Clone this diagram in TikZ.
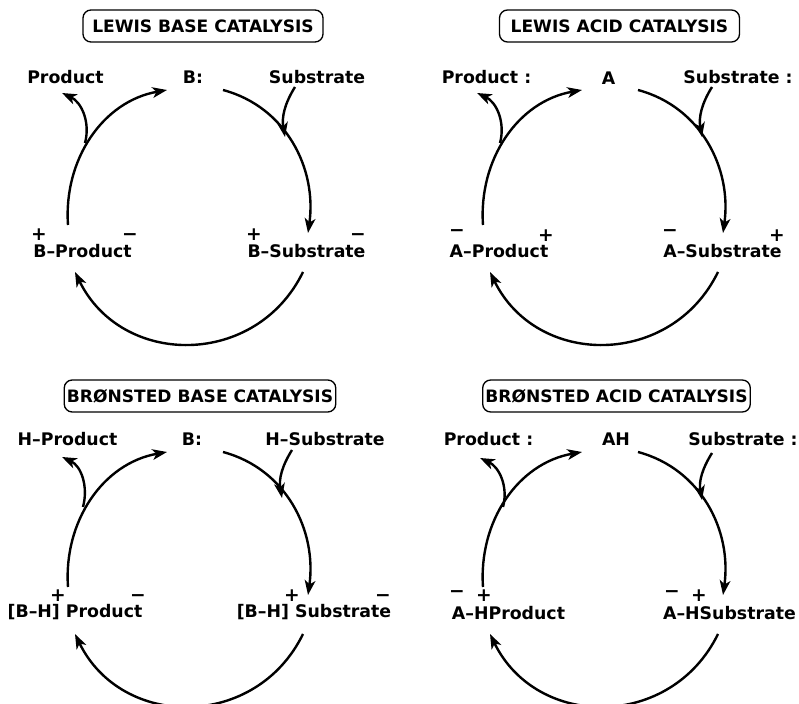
\documentclass[tikz,border=0pt]{standalone}
\usepackage{fontspec}
\setmainfont{DejaVu Sans}
\usepackage{tikz}
\usetikzlibrary{arrows.meta}

\begin{document}
\begin{tikzpicture}[x=0.75pt, y=0.75pt,
    titlebox/.style={draw, line width=1pt, rounded corners=6pt, minimum width=180pt, minimum height=24pt, inner xsep=2pt, inner ysep=0pt, font=\fontsize{12.8}{15}\selectfont\bfseries},
    lbl/.style={anchor=base, inner sep=0pt, font=\fontsize{13}{15}\selectfont\bfseries},
    chg/.style={inner sep=0pt, font=\fontsize{14}{16}\selectfont\bfseries},
    cyc/.style={line width=1.8pt, -{Stealth[length=11pt, width=8pt, inset=3pt]}}]
    \useasboundingbox (0, 0) rectangle (799, 703);

    \node[titlebox] at (203, 677) (P1title) {LEWIS BASE CATALYSIS};
    \node[lbl] at (65.5, 619) (P1prod) {Product};
    \node[lbl] at (193, 619) (P1cat) {B:};
    \node[lbl] at (317, 619) (P1subs) {Substrate};
    \node[lbl] at (82.5, 445) (P1left) {B–Product};
    \node[lbl] at (306.5, 445) (P1right) {B–Substrate};
    \node[chg] at (39, 468) (P1c1) {+};
    \node[chg] at (130, 466) (P1c2) {−};
    \node[chg] at (254, 468) (P1c3) {+};
    \node[chg] at (358, 466) (P1c4) {−};
    \coordinate (P1out) at (85, 560);
    \coordinate (P1in) at (285, 566);

    \draw[cyc] ([shift={(30,-6)}]P1cat.base) to[out=-15, in=82] ([shift={(1.5,25)}]P1right.base);
    \draw[cyc] ([shift={(-3.5,-14)}]P1right.base) to[out=-116, in=-64, looseness=1.2] ([shift={(-7.5,-14)}]P1left.base);
    \draw[cyc] ([shift={(-14.5,33)}]P1left.base) to[out=94, in=190] ([shift={(-26,-6)}]P1cat.base);
    \draw[cyc] (P1out) to[out=75, in=-25] ([shift={(-3.5,-9)}]P1prod.base);
    \draw[cyc] ([shift={(-22,-3)}]P1subs.base) to[out=238, in=100] (P1in);

    \node[titlebox] at (619.5, 677) (P2title) {LEWIS ACID CATALYSIS};
    \node[lbl] at (486.5, 619) (P2prod) {Product :};
    \node[lbl] at (608.5, 618) (P2cat) {A};
    \node[lbl] at (738, 619) (P2subs) {Substrate :};
    \node[lbl] at (499, 445) (P2left) {A–Product};
    \node[lbl] at (722.5, 445) (P2right) {A–Substrate};
    \node[chg] at (457, 470) (P2c1) {−};
    \node[chg] at (546, 467) (P2c2) {+};
    \node[chg] at (670, 470) (P2c3) {−};
    \node[chg] at (777, 467) (P2c4) {+};
    \coordinate (P2out) at (500, 560);
    \coordinate (P2in) at (702, 566);

    \draw[cyc] ([shift={(29.5,-5)}]P2cat.base) to[out=-15, in=82] ([shift={(0.5,25)}]P2right.base);
    \draw[cyc] ([shift={(-4.5,-14)}]P2right.base) to[out=-116, in=-64, looseness=1.2] ([shift={(-9,-14)}]P2left.base);
    \draw[cyc] ([shift={(-16,33)}]P2left.base) to[out=94, in=190] ([shift={(-26.5,-5)}]P2cat.base);
    \draw[cyc] (P2out) to[out=75, in=-25] ([shift={(-9.5,-9)}]P2prod.base);
    \draw[cyc] ([shift={(-26,-3)}]P2subs.base) to[out=238, in=100] (P2in);

    \node[titlebox] at (200, 307) (P3title) {BRØNSTED BASE CATALYSIS};
    \node[lbl] at (67.5, 257) (P3prod) {H–Product};
    \node[lbl] at (192, 257) (P3cat) {B:};
    \node[lbl] at (325, 257) (P3subs) {H–Substrate};
    \node[lbl] at (75, 85) (P3left) {[B–H] Product};
    \node[lbl] at (314, 85) (P3right) {[B–H] Substrate};
    \node[chg] at (58, 107) (P3c1) {+};
    \node[chg] at (138, 105) (P3c2) {−};
    \node[chg] at (292, 107) (P3c3) {+};
    \node[chg] at (383, 105) (P3c4) {−};
    \coordinate (P3out) at (83, 196);
    \coordinate (P3in) at (282, 205);

    \draw[cyc] ([shift={(31,-6)}]P3cat.base) to[out=-15, in=82] ([shift={(-6,23)}]P3right.base);
    \draw[cyc] ([shift={(-11,-16)}]P3right.base) to[out=-116, in=-64, looseness=1.2] ([shift={(0,-16)}]P3left.base);
    \draw[cyc] ([shift={(-7,31)}]P3left.base) to[out=94, in=190] ([shift={(-25,-6)}]P3cat.base);
    \draw[cyc] (P3out) to[out=75, in=-25] ([shift={(-5.5,-11)}]P3prod.base);
    \draw[cyc] ([shift={(-33,-4)}]P3subs.base) to[out=238, in=100] (P3in);

    \node[titlebox] at (616.5, 307) (P4title) {BRØNSTED ACID CATALYSIS};
    \node[lbl] at (488.5, 257) (P4prod) {Product :};
    \node[lbl] at (616, 257) (P4cat) {AH};
    \node[lbl] at (743, 257) (P4subs) {Substrate :};
    \node[lbl] at (508.5, 84) (P4left) {A–HProduct};
    \node[lbl] at (729.5, 84) (P4right) {A–HSubstrate};
    \node[chg] at (457, 109) (P4c1) {−};
    \node[chg] at (484, 107) (P4c2) {+};
    \node[chg] at (672, 109) (P4c3) {−};
    \node[chg] at (699, 107) (P4c4) {+};
    \coordinate (P4out) at (503, 196);
    \coordinate (P4in) at (702, 203);

    \draw[cyc] ([shift={(22,-6)}]P4cat.base) to[out=-15, in=82] ([shift={(-6.5,24)}]P4right.base);
    \draw[cyc] ([shift={(-11.5,-15)}]P4right.base) to[out=-116, in=-64, looseness=1.2] ([shift={(-18.5,-15)}]P4left.base);
    \draw[cyc] ([shift={(-25.5,32)}]P4left.base) to[out=94, in=190] ([shift={(-34,-6)}]P4cat.base);
    \draw[cyc] (P4out) to[out=75, in=-25] ([shift={(-8.5,-12)}]P4prod.base);
    \draw[cyc] ([shift={(-31,-7)}]P4subs.base) to[out=238, in=100] (P4in);
\end{tikzpicture}
\end{document}
